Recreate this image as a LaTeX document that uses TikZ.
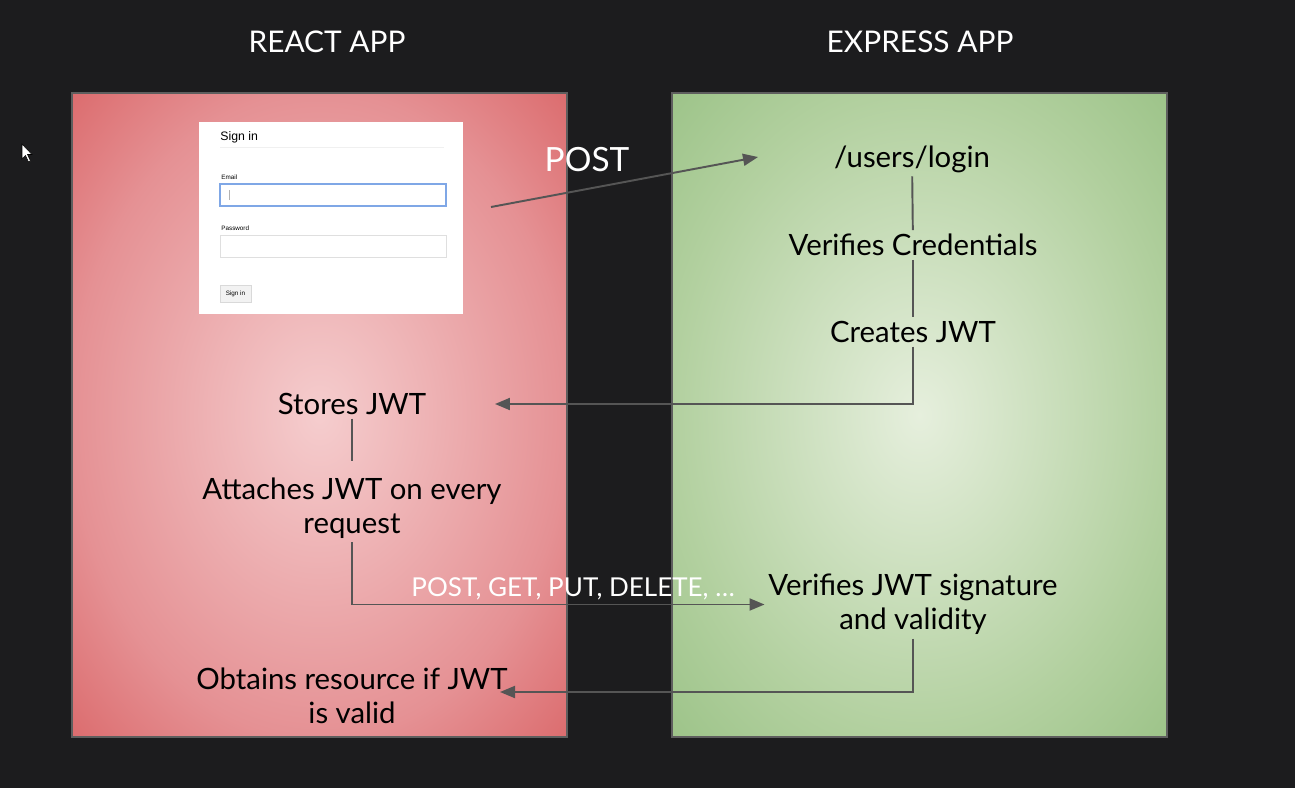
\documentclass[tikz,border=0pt]{standalone}
\usepackage{fontspec}
\setmainfont{Lato}
\newfontfamily\formfont{Liberation Sans}
\usetikzlibrary{arrows.meta}
\definecolor{bg}{HTML}{1C1C1E}
\definecolor{redin}{HTML}{F5CDCE}
\definecolor{redmid}{HTML}{E59194}
\definecolor{redout}{HTML}{DB6A6C}
\definecolor{greenin}{HTML}{E6EFDD}
\definecolor{greenmid}{HTML}{B2D09F}
\definecolor{greenout}{HTML}{9CC388}
\definecolor{linkgray}{HTML}{555555}
\definecolor{boxgray}{HTML}{5E5E5E}
\definecolor{focusblue}{HTML}{7FA7E6}
\pgfdeclareradialshading{redglow}{\pgfpoint{0bp}{0bp}}{color(0bp)=(redin); color(25bp)=(redmid); color(36bp)=(redout); color(50bp)=(redout)}
\pgfdeclareradialshading{greenglow}{\pgfpoint{0bp}{0bp}}{color(0bp)=(greenin); color(25bp)=(greenmid); color(36bp)=(greenout); color(50bp)=(greenout)}

\begin{document}
\begin{tikzpicture}[x=0.02cm, y=-0.02cm,
    txt/.style={font=\fontsize{16.7}{19.2}\selectfont, inner sep=2pt, align=center},
    title/.style={font=\fontsize{17}{20}\selectfont, text=white},
    link/.style={draw=linkgray, line width=1.1pt},
    arr/.style={link, -{Triangle[length=0.3cm, width=0.24cm]}},
    tiny/.style={font=\formfont\fontsize{3.6}{4}\selectfont, inner sep=0pt}]
    % background
    \fill[bg] (0,0) rectangle (1295,788);
    \fill[white, draw=black, line width=0.3pt] (22,144) -- (22,159) -- (25.5,155.5) -- (28.5,162) -- (30.5,161) -- (27.5,154.5) -- (32,154.5) -- cycle;

    % the two apps
    \shade[shading=redglow] (72,93) rectangle (567,737);
    \draw[boxgray, line width=0.8pt] (72,93) rectangle (567,737);
    \shade[shading=greenglow] (672,93) rectangle (1167,737);
    \draw[boxgray, line width=0.8pt] (672,93) rectangle (1167,737);
    \node[title] (react) at (327,42) {REACT APP};
    \node[title] (express) at (920,42) {EXPRESS APP};

    % sign in form
    \fill[white] (199,122) rectangle (463,314);
    \node[anchor=west, font=\formfont\fontsize{7}{8}\selectfont, inner sep=0pt] (signin) at (220,137) {Sign in};
    \draw[gray!12, line width=0.3pt] (220,147) -- (444,147);
    \node[tiny, anchor=west] (email) at (221,177.5) {Email};
    \draw[focusblue, fill=white, line width=0.7pt] (220,184) rectangle (446,206);
    \draw[gray!60, line width=0.3pt] (229,190) -- (229,200);
    \node[tiny, anchor=west] (password) at (221,228.5) {Password};
    \draw[gray!25, fill=white, line width=0.4pt] (220,235) rectangle (446,257);
    \draw[gray!30, fill=gray!10, line width=0.4pt] (220,285) rectangle (251,302);
    \node[tiny] (button) at (235.5,293.5) {Sign in};

    % react side
    \node[txt] (store) at (352,404) {Stores JWT};
    \node[txt] (attach) at (352,508) {Attaches JWT on every\\request};
    \node[txt] (obtain) at (352,695.5) {Obtains resource if JWT\\is valid};

    % express side
    \node[txt] (login) at (912,159) {/users/login};
    \node[txt] (verify) at (913,245) {Verifies Credentials};
    \node[txt] (creates) at (913,332) {Creates JWT};
    \node[txt] (checkjwt) at (913,604.5) {Verifies JWT signature\\and validity};

    % labels
    \node[font=\fontsize{19}{22}\selectfont, text=white] (post) at (587,160) {POST};
    \node[font=\fontsize{14.8}{17}\selectfont, text=white] (methods) at (573,589) {POST, GET, PUT, DELETE, \dots};

    % connectors
    \coordinate (postout) at (491,207);
    \coordinate (postin) at (758,157);
    \coordinate (obtainin) at (500,692);
    \draw[arr] (postout) -- (postin);
    \draw[link] (login) -- (verify);
    \draw[link] (verify) -- (creates);
    \draw[arr, shorten >=1.3cm] (creates) |- (store);
    \draw[link, shorten >=0.25cm] (store) -- (attach);
    \draw[arr] (attach) |- (checkjwt);
    \draw[arr] (checkjwt) |- (obtainin);
\end{tikzpicture}
\end{document}
